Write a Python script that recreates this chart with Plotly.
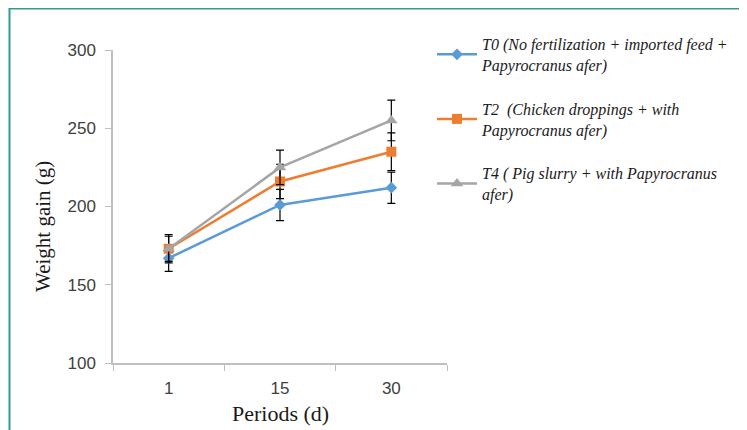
import plotly.graph_objects as go

periods = ["1", "15", "30"]
t0_vals = [167, 201, 212]
t2_vals = [173, 216, 235]
t4_vals = [173, 225, 255]
t0_err = [8.5, 10, 10]
t2_err = [8, 11, 12]
t4_err = [9, 11, 13]
names = [
    "T0 (No fertilization + imported feed +<br>Papyrocranus afer)",
    "T2  (Chicken droppings + with<br>Papyrocranus afer)",
    "T4 ( Pig slurry + with Papyrocranus<br>afer)",
]
colors = ["#5b9bd5", "#ed7d31", "#a5a5a5"]
symbols = ["diamond", "square", "triangle-up"]
msizes = [9, 10, 11]
y_ticks = [100, 150, 200, 250, 300]

W, H = 739, 422
L, R, T, B = 105, 300, 42, 67
PW, PH = W - L - R, H - T - B

fig = go.Figure()
for i, (vals, errs) in enumerate([(t0_vals, t0_err), (t2_vals, t2_err), (t4_vals, t4_err)]):
    fig.add_trace(go.Scatter(
        x=periods, y=vals, name=names[i], mode="lines+markers",
        legendgroup=f"g{i}",
        line=dict(color=colors[i], width=2.5),
        marker=dict(symbol=symbols[i], size=msizes[i], color=colors[i]),
        error_y=dict(type="data", array=errs, visible=True, color="black",
                     thickness=1.2, width=4),
    ))

fig.update_layout(
    width=W, height=H,
    margin=dict(l=L, r=R, t=T, b=B),
    paper_bgcolor="white", plot_bgcolor="white",
    showlegend=True,
    legend=dict(
        x=1 - 15 / PW, xanchor="left", y=1 + 23 / PH, yanchor="top",
        font=dict(family="Liberation Serif", size=16, color="#1a1a1a", style="italic"),
        traceorder="grouped", tracegroupgap=20, itemwidth=40,
        bgcolor="rgba(0,0,0,0)",
    ),
    xaxis=dict(
        type="category", range=[-0.5, 2.5], tickson="boundaries",
        showline=True, linecolor="#bfbfbf", linewidth=1.5,
        ticks="outside", ticklen=6, tickcolor="#bfbfbf",
        ticklabelstandoff=9,
        showgrid=False, zeroline=False,
        tickfont=dict(family="Liberation Sans", size=17, color="#404040"),
    ),
    yaxis=dict(
        range=[100, 300], tickvals=y_ticks,
        showline=True, linecolor="#bfbfbf", linewidth=1.5,
        ticks="outside", ticklen=6, tickcolor="#bfbfbf",
        ticklabelstandoff=6,
        showgrid=False, zeroline=False,
        tickfont=dict(family="Liberation Sans", size=17, color="#404040"),
    ),
    annotations=[
        dict(text="Weight gain (g)", xref="paper", yref="paper",
             x=(35 - L) / PW, y=(T + PH - 219) / PH, textangle=-90,
             showarrow=False, xanchor="center", yanchor="middle",
             font=dict(family="Liberation Serif", size=21, color="#1a1a1a")),
        dict(text="Periods (d)", xref="paper", yref="paper",
             x=0.5, y=(T + PH - 405) / PH,
             showarrow=False, xanchor="center", yanchor="middle",
             font=dict(family="Liberation Serif", size=22, color="#1a1a1a")),
    ],
    shapes=[dict(type="rect", xref="paper", yref="paper",
                 x0=(1.5 - L) / PW, x1=2.0, y0=-1.0, y1=1 + (T - 0.5) / PH,
                 line=dict(color="#2e9a94", width=2), fillcolor="rgba(0,0,0,0)", layer="below")],
)

fig.write_html("out.html")
